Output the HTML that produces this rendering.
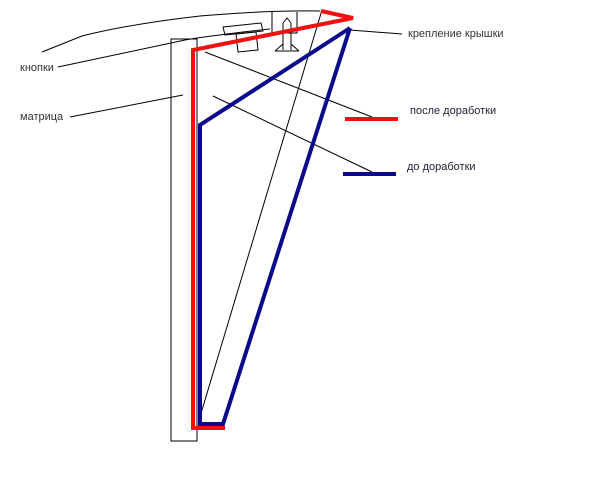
<!DOCTYPE html>
<html><head><meta charset="utf-8"><style>
html,body{margin:0;padding:0;background:#fff;width:600px;height:479px;overflow:hidden}
svg{display:block}
text{font-family:"Liberation Sans",sans-serif;font-size:11px;fill:#333}
</style></head><body>
<svg width="600" height="479" viewBox="0 0 600 479" xmlns="http://www.w3.org/2000/svg">
<g fill="none" stroke="#000" stroke-width="1">
<path d="M42 52 L82 36 Q130 24 200 16 Q270 10 320 11"/>
<path d="M350 30 L402 34"/>
<path d="M58 67 L185 40 L197 38 Q240 32 270 29"/>
<path d="M70 117 L183 95"/>
<rect x="171" y="39" width="26" height="402"/>
<path d="M322 10 L199 420"/>
<path d="M205 52 L372 117"/>
<path d="M213 96 L372 172"/>
<path d="M272 12 L272 33 L297 33 L297 12"/>
<path d="M223 27 L261 23 L263 31 L225 35 Z"/>
<path d="M236 34 L256 32 L258 50 L238 52 Z"/>
<path d="M283 23 L283 50 M291 23 L291 50 M283 23 L287 18 L291 23 M275 51 L283 44 M299 51 L291 44 M275 51 L299 51"/>
</g>
<g fill="none" stroke="#f01010" stroke-width="4" stroke-linejoin="miter">
<polyline points="225,428 193,428 193,50 353,18 321,11"/>
<line x1="345" y1="119" x2="398" y2="119"/>
</g>
<g fill="none" stroke="#0a0a8a" stroke-width="4">
<polyline points="350,28 200,125 200,424 223,424 350,28"/>
<line x1="343" y1="174" x2="396" y2="174"/>
</g>
<text x="20" y="71">кнопки</text>
<text x="20" y="120">матрица</text>
<text x="408" y="37">крепление крышки</text>
<text x="410" y="114" style="fill:#223">после доработки</text>
<text x="407" y="170" style="fill:#223">до доработки</text>
</svg>
</body></html>
